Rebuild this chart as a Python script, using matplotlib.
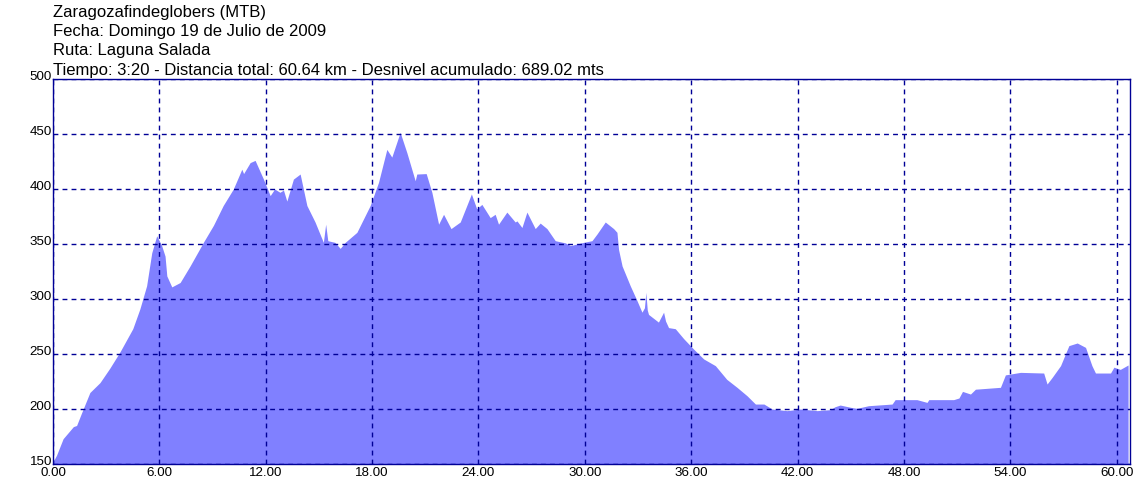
import matplotlib
matplotlib.use("Agg")
import matplotlib.pyplot as plt

plt.rcParams['font.family'] = ['Liberation Sans', 'DejaVu Sans']

title_lines = [
    "Zaragozafindeglobers (MTB)",
    "Fecha: Domingo 19 de Julio de 2009",
    "Ruta: Laguna Salada",
    "Tiempo: 3:20 - Distancia total: 60.64 km - Desnivel acumulado: 689.02 mts",
]

distance_km = [
    0.0, 0.2, 0.57, 1.15, 1.33, 1.6, 2.08, 2.65, 3.2, 3.78, 4.5, 4.9, 5.28, 5.57, 5.85,
    6.13, 6.32, 6.42, 6.7, 7.17, 7.73, 8.48, 9.05, 9.6, 10.17, 10.65, 10.75, 11.12, 11.4,
    11.87, 12.25, 12.5, 12.8, 13.0, 13.19, 13.56, 13.94, 14.32, 14.78, 15.25, 15.38, 15.5,
    15.9, 16.2, 16.48, 17.14, 17.89, 18.36, 18.83, 19.11, 19.58, 19.96, 20.43, 20.52,
    21.05, 21.37, 21.75, 22.03, 22.45, 22.97, 23.6, 23.9, 24.19, 24.66, 24.94, 25.13,
    25.6, 26.07, 26.17, 26.45, 26.73, 27.2, 27.48, 27.86, 28.33, 28.9, 29.18, 29.55,
    29.93, 30.4, 30.68, 31.15, 31.62, 31.81, 31.9, 32.1, 32.56, 32.94, 33.22, 33.36,
    33.44, 33.52, 33.59, 34.15, 34.44, 34.55, 34.72, 35.1, 35.57, 36.13, 36.7, 37.36,
    38.0, 38.58, 39.15, 39.62, 40.1, 40.56, 41.4, 42.16, 43.1, 43.85, 44.1, 44.4, 45.0,
    45.35, 46.0, 47.33, 47.5, 48.73, 49.3, 49.4, 50.8, 51.1, 51.3, 51.75, 52.03, 53.44,
    53.72, 54.57, 55.88, 56.07, 56.36, 56.83, 57.3, 57.77, 58.24, 58.6, 58.8, 59.65,
    59.84, 60.2, 60.64,
]

elevation_m = [
    152, 158, 173, 184, 185, 196, 215, 224, 237, 252, 273, 291, 312, 342, 357.5,
    348.5, 339, 321, 311, 315, 330, 351.5, 367, 385, 400, 418, 414, 424, 426,
    409, 394, 400, 397, 399, 389, 409, 413.6, 385, 370, 351.5, 368, 353,
    351.5, 346, 351.5, 360.6, 385, 406, 436, 429, 451.5, 433, 407.5, 413.6,
    414, 397, 368, 377, 364, 370, 395.5, 382, 386, 374, 377, 368,
    379, 370, 371, 365, 379, 364, 369, 364, 353, 351, 348.5, 350,
    351.5, 353, 359, 370, 364, 360.6, 345, 330, 312, 298.5, 288, 292,
    306, 290, 286, 279, 288, 280, 274, 273, 264, 254.5, 245.5, 239.4,
    227, 219.7, 212, 204.5, 204.5, 200, 198.5, 200, 198.5, 199.4, 202, 203.6, 201.5,
    200.6, 203, 204.5, 208.5, 208.5, 206, 208.5, 208.5, 210, 216, 213.6, 218, 219.7,
    231, 233.3, 232.7, 222.7, 228.8, 239.4, 257.6, 260, 256, 239.4, 232.7, 232.7,
    238, 236, 240,
]

x_ticks = [0, 6, 12, 18, 24, 30, 36, 42, 48, 54, 60]
x_tick_labels = ["0.00", "6.00", "12.00", "18.00", "24.00", "30.00", "36.00",
                 "42.00", "48.00", "54.00", "60.00"]
y_ticks = [150, 200, 250, 300, 350, 400, 450, 500]
y_tick_labels = ["150", "200", "250", "300", "350", "400", "450", "500"]

W, H = 1146, 481
fig = plt.figure(figsize=(W / 100, H / 100), dpi=100)
fig.patch.set_facecolor('white')
ax = fig.add_axes([53 / W, 1 - 465 / H, (1129.5 - 53) / W, (465 - 80) / H])

navy = '#000096'
fill_color = '#8080FF'

ax.fill_between(distance_km, elevation_m, 150, color=fill_color, linewidth=0, zorder=1)

ax.set_xlim(0, 60.72)
ax.set_ylim(150, 500)
ax.set_xticks(x_ticks)
ax.set_xticklabels(x_tick_labels)
ax.set_yticks(y_ticks)
ax.set_yticklabels(y_tick_labels)
ax.tick_params(axis='both', length=0, labelsize=9.6, colors='black')
ax.tick_params(axis='x', pad=1.5)
ax.tick_params(axis='y', pad=0.8)
for lbl in ax.get_yticklabels():
    lbl.set_verticalalignment('baseline')

ax.grid(True, color=navy, linestyle=(0, (3.5, 3)), linewidth=1.0, zorder=2)
ax.set_axisbelow(False)
for s in ax.spines.values():
    s.set_color(navy)
    s.set_linewidth(1.0)
    s.set_zorder(3)

baselines = [16.7, 35.9, 55.2, 74.8]
for text, b in zip(title_lines, baselines):
    fig.text(53 / W, 1 - b / H, text, fontsize=12.0, color='black',
             ha='left', va='baseline')

fig.savefig('out.png', dpi=100)
